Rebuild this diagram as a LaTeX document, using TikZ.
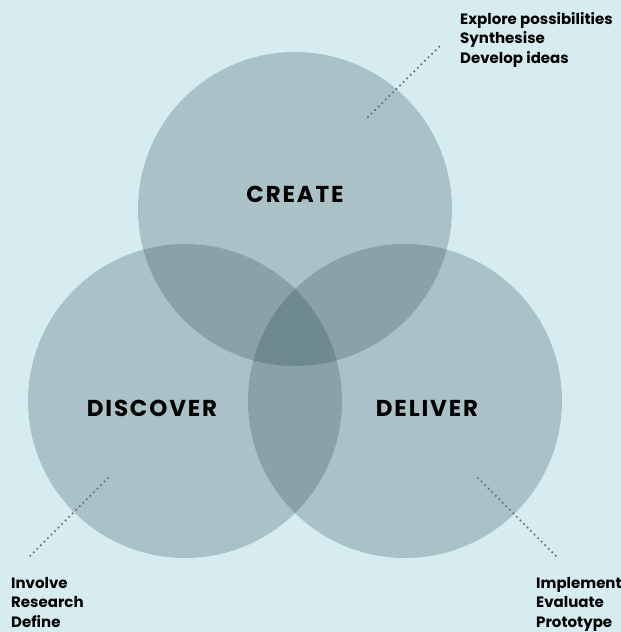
\documentclass[tikz,border=0pt]{standalone}
\usepackage{fontspec}
\setmainfont{Poppins}
\newfontfamily\stagefont[LetterSpace=8]{Poppins}
\usepackage{tikz}
\definecolor{bgblue}{RGB}{214,236,241}
\definecolor{lensgray}{RGB}{30,60,66}
\definecolor{dotgray}{RGB}{105,108,112}

\begin{document}
\begin{tikzpicture}[x=1pt,y=-1pt]
            \tikzstyle{stage}=[circle,fill=lensgray,fill opacity=0.235,minimum size=314pt,inner sep=0pt]
            \tikzstyle{stagename}=[font=\stagefont\bfseries\fontsize{23}{23}\selectfont,text=black]
            \tikzstyle{tasks}=[font=\bfseries\fontsize{15}{19.5}\selectfont,align=left,inner sep=0pt,text=black]
            \tikzstyle{pointer}=[dotgray,line width=2.3pt,line cap=round,dash pattern=on 0pt off 5pt]
            \useasboundingbox (0,0) rectangle (621,632);
            \fill[bgblue] (0,0) rectangle (621,632);
                    \node[stage] (C-create) at (295, 209){};
                    \node[stage] (C-discover) at (185, 401){};
                    \node[stage] (C-deliver) at (405, 401){};

                    \node[stagename] (L-create) at (295, 194){CREATE};
                    \node[stagename] (L-discover) at (152, 408){DISCOVER};
                    \node[stagename] (L-deliver) at (427, 408){DELIVER};

                    \node[tasks,anchor=north west] (T-create) at (460, 12){Explore possibilities\\Synthesise\\Develop ideas};
                    \node[tasks,anchor=north west] (T-discover) at (11, 577){Involve\\Research\\Define};
                    \node[tasks,anchor=north west] (T-deliver) at (536, 577){Implement\\Evaluate\\Prototype};

                    \coordinate (P-create-a) at (368, 117);
                    \coordinate (P-create-b) at (442, 44);
                    \coordinate (P-discover-a) at (108, 478);
                    \coordinate (P-discover-b) at (29, 557);
                    \coordinate (P-deliver-a) at (478, 478);
                    \coordinate (P-deliver-b) at (557, 557);

                \foreach \stage in {create, discover, deliver}
                    \draw[pointer] (P-\stage-a) -- (P-\stage-b);
        \end{tikzpicture}
\end{document}
